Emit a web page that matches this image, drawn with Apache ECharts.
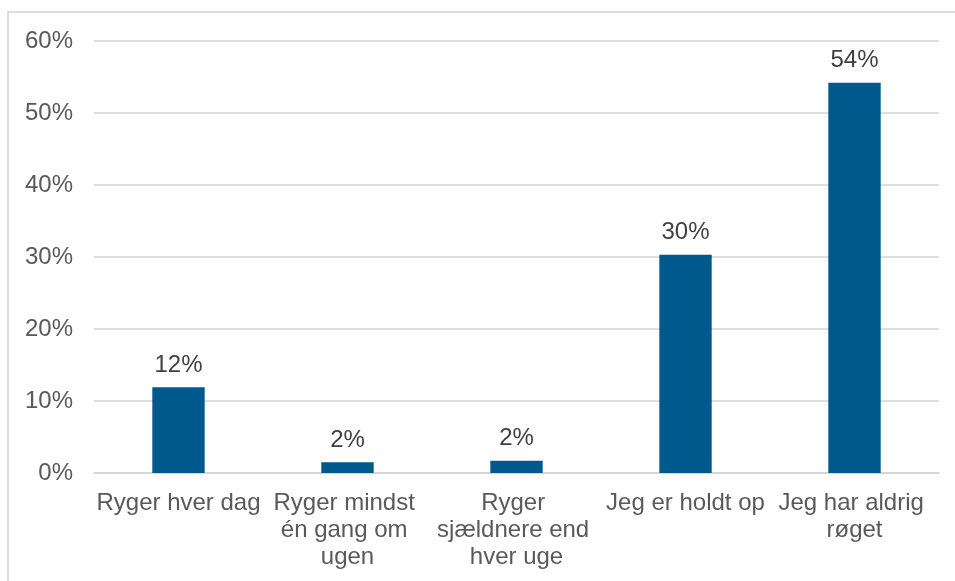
<!DOCTYPE html>
<html>
<head>
<meta charset="utf-8">
<script src="https://cdn.jsdelivr.net/npm/echarts@6/dist/echarts.min.js"></script>
<style>
  html, body { margin: 0; padding: 0; background: #ffffff; }
  #wrap { position: relative; width: 955px; height: 581px; overflow: hidden; }
  #frame { position: absolute; left: 7px; top: 11px; width: 1000px; height: 700px;
           border-left: 2px solid #dcdcdc; border-top: 2px solid #dcdcdc; box-sizing: border-box; }
  #chart { position: absolute; left: 0; top: 0; width: 955px; height: 581px; }
</style>
</head>
<body>
<div id="wrap">
  <div id="frame"></div>
  <div id="chart"></div>
</div>
<script>
// Rygevaner – andel af svarpersoner (%)
const categories = [
  'Ryger hver dag',
  'Ryger mindst én gang om ugen',
  'Ryger sjældnere end hver uge',
  'Jeg er holdt op',
  'Jeg har aldrig røget'
];
const values = [11.9, 1.5, 1.7, 30.3, 54.2];
const yTicks = { min: 0, max: 60, interval: 10 };

const font = 'Liberation Sans, Arial, sans-serif';
const chart = echarts.init(document.getElementById('chart'), null, { renderer: 'canvas' });

chart.setOption({
  animation: false,
  backgroundColor: 'transparent',
  grid: { left: 94, right: 16, top: 41, bottom: 108, containLabel: false },
  xAxis: {
    type: 'category',
    data: categories,
    axisLine: { show: true, lineStyle: { color: '#d4d4d4', width: 1.5 } },
    axisTick: { show: false },
    axisLabel: {
      interval: 0,
      margin: 17,
      color: '#595959',
      fontFamily: font,
      fontSize: 24,
      lineHeight: 27,
      width: 167,
      overflow: 'break',
      align: 'center'
    }
  },
  yAxis: {
    type: 'value',
    min: yTicks.min,
    max: yTicks.max,
    interval: yTicks.interval,
    axisLine: { show: false },
    axisTick: { show: false },
    splitLine: { lineStyle: { color: '#d4d4d4', width: 1.5 } },
    axisLabel: {
      margin: 21,
      color: '#595959',
      fontFamily: font,
      fontSize: 24,
      formatter: v => v + '%'
    }
  },
  series: [{
    type: 'bar',
    data: values,
    barWidth: '31%',
    itemStyle: { color: '#00598c' },
    label: {
      show: true,
      position: 'top',
      distance: 10,
      color: '#404040',
      fontFamily: font,
      fontSize: 24,
      formatter: p => Math.round(p.value) + '%'
    }
  }]
});
</script>
</body>
</html>
